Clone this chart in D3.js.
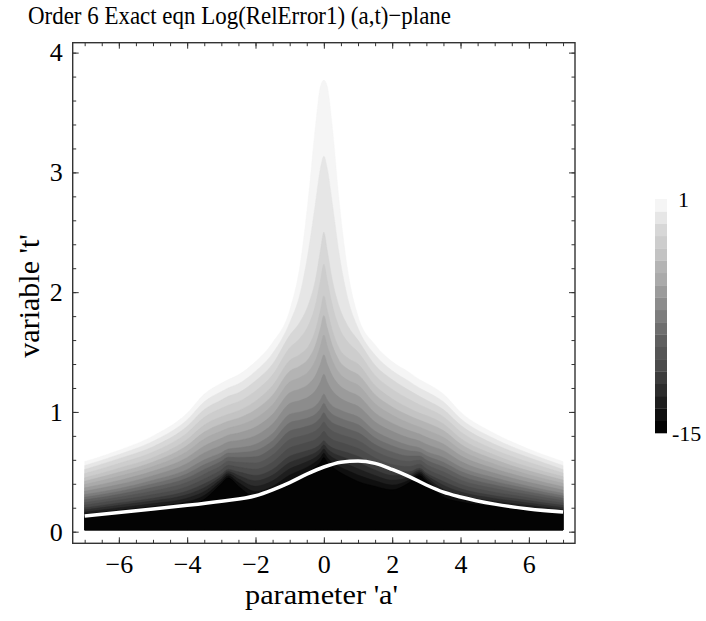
<!DOCTYPE html>
<html><head><meta charset="utf-8">
<script src="https://cdn.jsdelivr.net/npm/d3@7"></script>
<style>
body{margin:0;background:#fff}
text{font-family:"Liberation Serif","Times New Roman",serif;fill:#000}
</style>
</head><body>
<svg id="c" width="706" height="621"></svg>
<script>
// ---- data ----
const titleText = "Order 6 Exact eqn Log(RelError1) (a,t)\u2212plane";
const xLabel = "parameter 'a'";
const yLabel = "variable 't'";
const legendLabels = ["1", "-15"];
const legendRange = [-15, 1];
const xTicks = [-6, -4, -2, 0, 2, 4, 6];
const yTicks = [0, 1, 2, 3, 4];

// parameter 'a' columns at which the contour boundaries were read
const aCols   = [-7,-6,-5,-4,-3.5,-3,-2.8,-2.5,-2,-1.5,-1,-0.7,-0.45,-0.25,-0.1,0,0.1,0.25,0.45,0.7,1,1.5,2,2.5,2.8,3,3.5,4,5,6,7];
// t-position of contour boundary #1 (black / darkest grey)
const bound1  = [0.13,0.16,0.19,0.22,0.27,0.40,0.45,0.38,0.29,0.33,0.42,0.46,0.50,0.54,0.58,0.62,0.58,0.54,0.50,0.46,0.42,0.38,0.35,0.41,0.47,0.42,0.29,0.25,0.21,0.18,0.15];
// boundary #5
const bound5  = [0.20,0.24,0.28,0.34,0.40,0.48,0.52,0.50,0.47,0.52,0.63,0.66,0.68,0.70,0.73,0.76,0.73,0.70,0.68,0.66,0.63,0.56,0.51,0.50,0.53,0.49,0.42,0.36,0.30,0.26,0.22];
// boundary #10
const bound10 = [0.31,0.36,0.43,0.52,0.60,0.66,0.69,0.70,0.73,0.82,0.98,1.00,1.02,1.05,1.10,1.15,1.10,1.05,1.02,0.99,0.96,0.84,0.77,0.72,0.70,0.67,0.62,0.54,0.45,0.38,0.32];
// boundary #15
const bound15 = [0.45,0.53,0.62,0.77,0.89,0.96,0.98,1.01,1.09,1.22,1.43,1.48,1.55,1.68,1.85,1.97,1.85,1.68,1.53,1.45,1.40,1.22,1.11,1.03,0.99,0.97,0.90,0.78,0.64,0.54,0.46];
// boundary #17
const bound17 = [0.52,0.61,0.71,0.88,1.02,1.10,1.13,1.16,1.26,1.40,1.64,1.75,1.90,2.10,2.35,2.50,2.35,2.10,1.88,1.72,1.60,1.39,1.27,1.18,1.13,1.10,1.02,0.89,0.73,0.62,0.52];
// boundary #19 (outer envelope, lightest grey / white)
const bound19 = [0.585,0.68,0.80,0.99,1.15,1.24,1.27,1.31,1.42,1.58,1.85,2.22,2.80,3.38,3.72,3.77,3.72,3.38,2.76,2.18,1.80,1.56,1.42,1.33,1.27,1.24,1.15,1.00,0.82,0.69,0.585];
const keyIndex = [1, 5, 10, 15, 17, 19];

// grey levels of the 19 contour cells (darkest first), as in the legend
const cellGrey = [3,15,30,45,60,75,85,95,110,125,140,155,170,180,195,205,215,230,245];

// white curve
const whiteA = [-7,-6,-5,-4,-3,-2,-1.5,-1,-0.5,0,0.5,1,1.5,2,2.5,3,3.5,4,5,6,7];
const whiteT = [0.13,0.16,0.19,0.22,0.255,0.30,0.35,0.41,0.48,0.54,0.58,0.59,0.57,0.52,0.46,0.39,0.33,0.29,0.23,0.19,0.165];

const tMin = 0.015;

// ---- drawing ----
const svg = d3.select("#c");
const X0 = 72.7, X1 = 575, Y0 = 543.3, Y1 = 42.7;
const x = d3.scaleLinear().domain([-7.35, 7.35]).range([X0, X1]);
const y = d3.scaleLinear().domain([-0.097, 4.083]).range([Y0, Y1]);
const grey = g => d3.rgb(g, g, g).toString();

svg.append("clipPath").attr("id", "clip")
  .append("rect").attr("x", X0).attr("y", Y1).attr("width", X1 - X0).attr("height", Y0 - Y1);

const keys = [bound1, bound5, bound10, bound15, bound17, bound19];
function boundaryAt(b, i) {
  let j = 0;
  while (j < keyIndex.length - 2 && b > keyIndex[j + 1]) j++;
  const s = d3.scaleLinear().domain([keyIndex[j], keyIndex[j + 1]]).range([keys[j][i], keys[j + 1][i]]);
  return s(b);
}

const plot = svg.append("g").attr("clip-path", "url(#clip)");
for (let b = 19; b >= 1; b--) {
  const pts = aCols.map((a, i) => [a, boundaryAt(b, i)]);
  const area = d3.area()
    .x(d => x(d[0]))
    .y0(y(tMin))
    .y1(d => y(d[1]))
    .curve(d3.curveMonotoneX);
  plot.append("path").datum(pts).attr("d", area)
    .attr("fill", grey(cellGrey[b - 1]))
    .attr("stroke", grey(cellGrey[b - 1])).attr("stroke-width", 0.4);
}
plot.append("path").datum(whiteA.map((a, i) => [a, whiteT[i]]))
  .attr("d", d3.line().x(d => x(d[0])).y(d => y(d[1])).curve(d3.curveMonotoneX))
  .attr("fill", "none").attr("stroke", "#fff").attr("stroke-width", 3.5);

// axes: ticks point inward
const frameColor = "#333";
function styleAxis(g) {
  g.select(".domain").remove();
  g.selectAll(".tick line").attr("stroke", frameColor).attr("stroke-width", 1);
  g.selectAll("text").style("font-size", "26px").style("font-family", '"Liberation Serif",serif').attr("fill", "#000");
}
const xMinor = d3.range(-7, 7.001, 0.5);
const yMinor = d3.range(0, 4.001, 0.2);

svg.append("g").attr("transform", `translate(0,${Y0})`)
  .call(d3.axisBottom(x).tickValues(xMinor).tickSize(-3.5).tickFormat("")).call(styleAxis);
svg.append("g").attr("transform", `translate(0,${Y0})`)
  .call(d3.axisBottom(x).tickValues(xTicks).tickSize(-6).tickPadding(11).tickFormat(d3.format("d"))).call(styleAxis);
svg.append("g").attr("transform", `translate(0,${Y1})`)
  .call(d3.axisTop(x).tickValues(xMinor).tickSize(-3.5).tickFormat("")).call(styleAxis);
svg.append("g").attr("transform", `translate(0,${Y1})`)
  .call(d3.axisTop(x).tickValues(xTicks).tickSize(-6).tickFormat("")).call(styleAxis);

svg.append("g").attr("transform", `translate(${X0},0)`)
  .call(d3.axisLeft(y).tickValues(yMinor).tickSize(-3.5).tickFormat("")).call(styleAxis);
svg.append("g").attr("transform", `translate(${X0},0)`)
  .call(d3.axisLeft(y).tickValues(yTicks).tickSize(-6).tickPadding(10).tickFormat(d3.format("d"))).call(styleAxis);
svg.append("g").attr("transform", `translate(${X1},0)`)
  .call(d3.axisRight(y).tickValues(yMinor).tickSize(-3.5).tickFormat("")).call(styleAxis);
svg.append("g").attr("transform", `translate(${X1},0)`)
  .call(d3.axisRight(y).tickValues(yTicks).tickSize(-6).tickFormat("")).call(styleAxis);

svg.append("rect").attr("x", X0).attr("y", Y1).attr("width", X1 - X0).attr("height", Y0 - Y1)
  .attr("fill", "none").attr("stroke", frameColor).attr("stroke-width", 1.4);

// titles
svg.append("text").attr("x", 28).attr("y", 24).text(titleText)
  .style("font-size", "26px").attr("textLength", 423).attr("lengthAdjust", "spacingAndGlyphs");
svg.append("text").attr("x", 245).attr("y", 604)
  .style("font-size", "27px").attr("textLength", 153).attr("lengthAdjust", "spacingAndGlyphs").text(xLabel);
svg.append("text").attr("transform", "translate(39,296) rotate(-90)").attr("text-anchor", "middle")
  .style("font-size", "30px").text(yLabel);

// legend
const ly = d3.scaleLinear().domain(legendRange).range([433, 199]);
const step = (legendRange[1] - legendRange[0]) / cellGrey.length;
svg.append("g").selectAll("rect").data(cellGrey).join("rect")
  .attr("x", 655).attr("width", 12)
  .attr("y", (d, i) => ly(legendRange[0] + (i + 1) * step))
  .attr("height", (d, i) => ly(legendRange[0] + i * step) - ly(legendRange[0] + (i + 1) * step) + 0.3)
  .attr("fill", d => grey(d));
svg.append("text").attr("x", 678).attr("y", ly(1) + 8).style("font-size", "22px").text(legendLabels[0]);
svg.append("text").attr("x", 672).attr("y", ly(-15) + 8).style("font-size", "22px").text(legendLabels[1]);
</script>
</body></html>
